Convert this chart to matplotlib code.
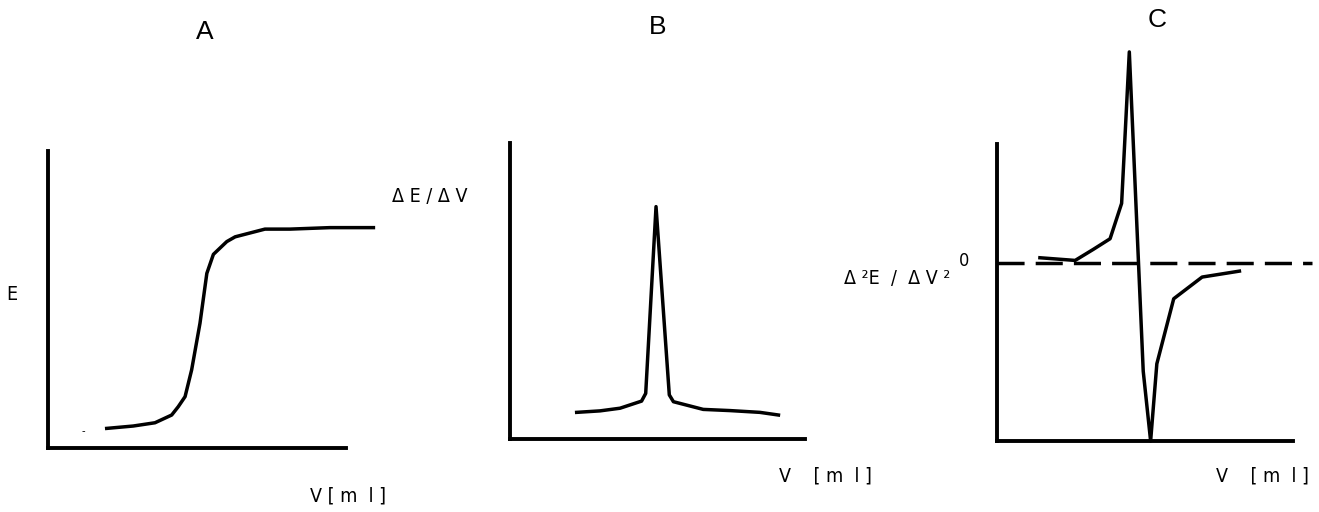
import matplotlib
matplotlib.use("Agg")
import matplotlib.pyplot as plt

# titration curve (A)
a_v = [1.97, 2.86, 3.59, 4.15, 4.37, 4.60, 4.82, 5.10, 5.33, 5.55, 6.00, 6.28, 7.28, 8.12, 9.46, 10.92]
a_e = [0.66, 0.74, 0.85, 1.11, 1.39, 1.73, 2.63, 4.20, 5.88, 6.52, 6.95, 7.11, 7.37, 7.37, 7.42, 7.42]

# first derivative (B)
b_v = [2.26, 3.05, 3.73, 4.46, 4.60, 4.95, 5.40, 5.54, 6.55, 7.46, 8.47, 9.10]
b_d = [0.90, 0.95, 1.04, 1.28, 1.54, 7.85, 1.49, 1.26, 1.00, 0.96, 0.90, 0.81]

# second derivative (C)
c_v = [1.45, 2.64, 3.25, 3.82, 4.21, 4.47, 4.94, 5.19, 5.40, 5.97, 6.93, 8.19]
c_d = [0.17, 0.08, 0.45, 0.81, 2.00, 7.10, -3.65, -6.0, -3.4, -1.21, -0.48, -0.28]

W, H = 1319, 512
fig = plt.figure(figsize=(W / 100, H / 100), dpi=100)

def make_ax(x0, x1, ytop, ybot, ylim):
    ax = fig.add_axes([x0 / W, 1 - ybot / H, (x1 - x0) / W, (ybot - ytop) / H])
    ax.set_xlim(0, 10)
    ax.set_ylim(*ylim)
    for s in ['top', 'right']:
        ax.spines[s].set_visible(False)
    for s in ['left', 'bottom']:
        ax.spines[s].set_linewidth(2.8)
    ax.set_xticks([])
    ax.set_yticks([])
    ax.patch.set_alpha(0)
    return ax

lw = 2.5
axA = make_ax(48, 346, 151, 448, (0, 10))
axA.plot(a_v, a_e, color='black', lw=lw, clip_on=False)

axB = make_ax(510, 805, 143, 439, (0, 10))
axB.plot(b_v, b_d, color='black', lw=lw, clip_on=False)

axC = make_ax(997, 1293, 144, 441, (-6, 4))
axC.plot([0, 10.65], [0, 0], color='black', lw=2.5, dashes=(7.8, 3.2), clip_on=False)
axC.plot(c_v, c_d, color='black', lw=lw, clip_on=False)

narrow = ['Liberation Sans Narrow', 'DejaVu Sans']
def lab(x, y, s, size=14, fam=narrow):
    fig.text(x / W, 1 - y / H, s, ha='center', va='center', fontsize=size,
             family=fam, fontstretch='condensed')

lab(205, 32, 'A', 19, ['Liberation Sans'])
lab(658, 27, 'B', 19, ['Liberation Sans'])
lab(1157, 20, 'C', 19, ['Liberation Sans'])

lab(12, 294, 'E')
lab(348, 496, 'V [ m  l ]')
lab(430, 196, 'Δ E / Δ V')
lab(825, 476, 'V    [ m  l ]')
lab(897, 278, 'Δ ²E  /  Δ V ²')
lab(964, 261, '0', 13)
lab(1262, 476, 'V    [ m  l ]')
lab(83, 431, '-', 8)

fig.savefig('out.png', dpi=100)
